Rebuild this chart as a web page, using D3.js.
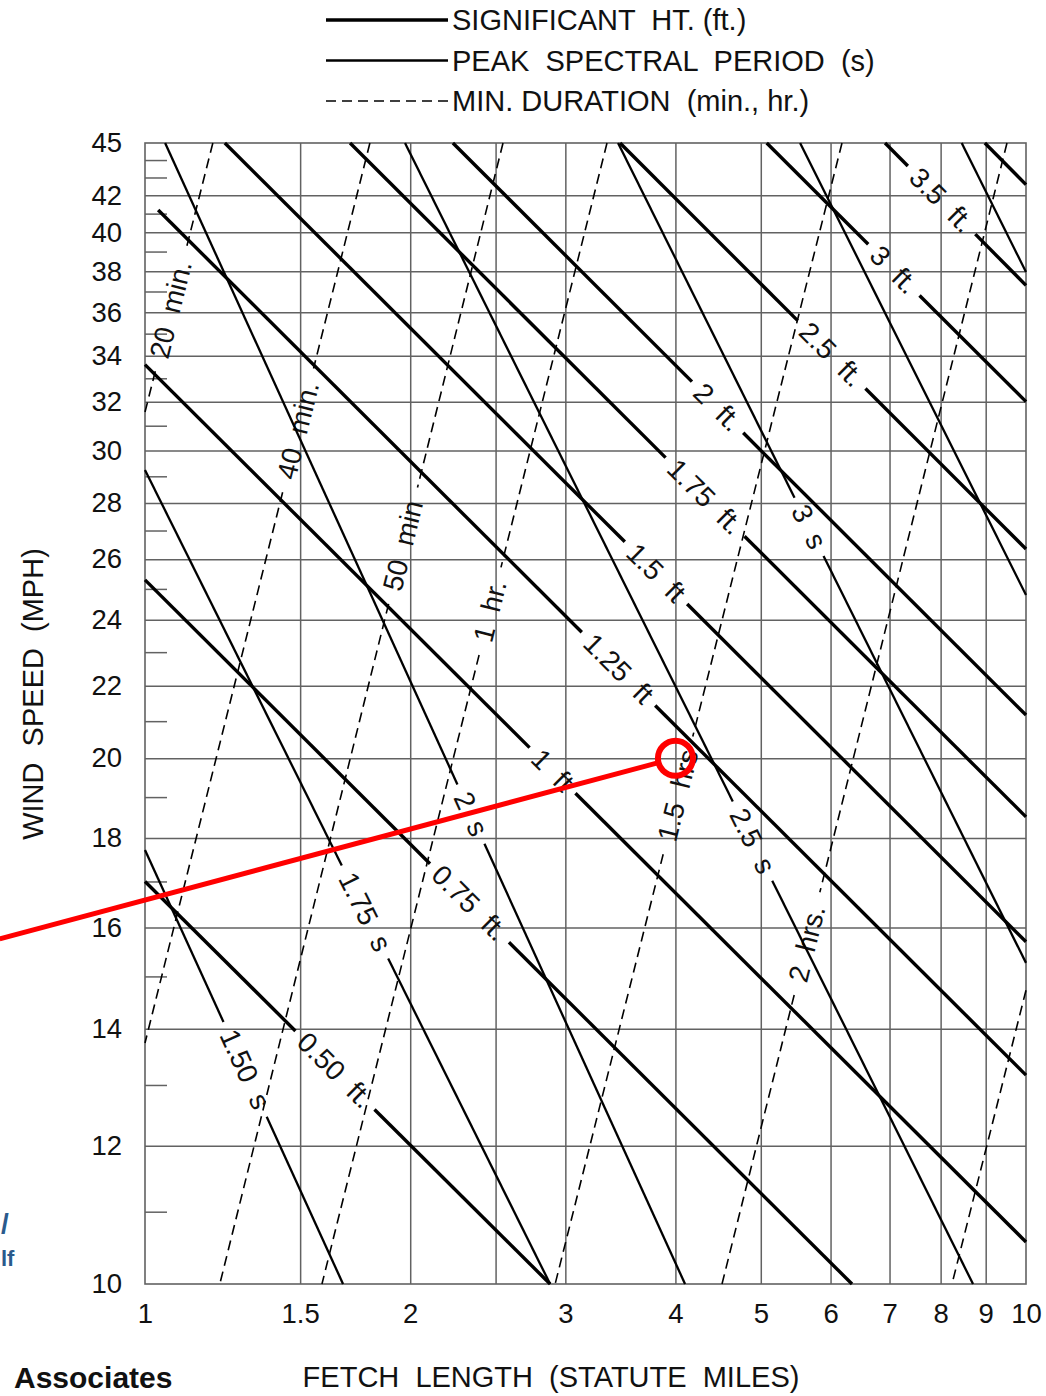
<!DOCTYPE html>
<html><head><meta charset="utf-8">
<script src="https://cdn.jsdelivr.net/npm/d3@7"></script>
<style>
html,body{margin:0;padding:0;background:#fff;}
svg text{font-family:"Liberation Sans",Arial,Helvetica,sans-serif;white-space:pre;}
</style></head>
<body><svg id="c" width="1046" height="1396"></svg>
<script>
// ---------------- data ----------------
const windTicks  = [10,12,14,16,18,20,22,24,26,28,30,32,34,36,38,40,42,45];
const windMinor  = [11,13,15,17,19,21,23,25,27,29,31,33,35,37,39,41,43,44];
const fetchGrid  = [1.5,2,2.5,3,4,5,6,7,8,9];
const fetchTicks = [1,1.5,2,3,4,5,6,7,8,9,10];

const legendLabels = ["SIGNIFICANT  HT. (ft.)","PEAK  SPECTRAL  PERIOD  (s)","MIN. DURATION  (min., hr.)"];

// significant wave height lines: [fetch, wind] at each end, label, fetch of label
const heightLabels = ["0.50  ft.","0.75  ft.","1  ft","1.25  ft","1.5  ft","1.75  ft.","2  ft.","2.5  ft.","3  ft.","3.5  ft.",""];
const heightStart  = [[1,17.0],[1,25.3],[1,33.6],[1.035,41.2],[1.232,45],[1.709,45],[2.236,45],[3.461,45],[5.078,45],[6.918,45],[8.98,45]];
const heightEnd    = [[2.883,10],[6.346,10],[10,10.57],[10,13.17],[10,15.7],[10,18.51],[10,21.17],[10,26.35],[10,32.0],[10,37.3],[10,42.6]];
const heightLabelFetch = [1.643,2.335,2.901,3.447,3.802,4.322,4.466,6.016,7.08,8.02,null];

// peak spectral period lines
const periodLabels = ["1.50  s","1.75  s","2  s","2.5  s","3  s","",""];
const periodStart  = [[1,17.72],[1,29.24],[1.054,45],[1.973,45],[3.443,45],[5.541,45],[8.453,45]];
const periodEnd    = [[1.678,10],[2.883,10],[4.102,10],[8.707,10],[10,15.27],[10,24.8],[10,37.96]];
const periodLabelFetch = [1.299,1.777,2.344,4.893,5.672,null,null];

// minimum duration lines
const durationLabels = ["20  min.","40  min.","50  min","1  hr.","1.5  hrs","2  hrs.",""];
const durationStart  = [[1.194,45],[1.8,45],[2.549,45],[3.345,45],[6.182,45],[9.515,45],[10,14.73]];
const durationEnd    = [[1,31.56],[1,13.74],[1.216,10],[1.588,10],[2.921,10],[4.518,10],[8.241,10]];
const durationLabelFetch = [1.070,1.492,1.963,2.464,4.027,5.642,null];

// red annotation (fetch, wind)
const markPoint = [4,20];
const markTail  = [0.684,15.76];

// ---------------- chart ----------------
const svg = d3.select("#c");
const X0=145, X1=1026, Y0=1284, Y1=143;
const xs = d3.scaleLog().domain([1,10]).range([X0,X1]);
const ys = d3.scaleLog().domain([10,45]).range([Y0,Y1]);
const GRID="#626262";

// vertical grid
svg.append("g").attr("transform",`translate(0,${Y0})`)
  .call(d3.axisBottom(xs).tickValues(fetchGrid).tickSize(-(Y0-Y1)).tickFormat(""))
  .call(g=>g.select(".domain").remove())
  .selectAll("line").attr("stroke",GRID).attr("stroke-width",1.5);
// horizontal grid
svg.append("g").attr("transform",`translate(${X0},0)`)
  .call(d3.axisLeft(ys).tickValues(windTicks.filter(v=>v>10&&v<45)).tickSize(-(X1-X0)).tickFormat(""))
  .call(g=>g.select(".domain").remove())
  .selectAll("line").attr("stroke",GRID).attr("stroke-width",1.5);
// minor ticks
svg.append("g").attr("transform",`translate(${X0},0)`)
  .call(d3.axisLeft(ys).tickValues(windMinor).tickSize(-22).tickFormat(""))
  .call(g=>g.select(".domain").remove())
  .selectAll("line").attr("stroke",GRID).attr("stroke-width",1.5);
// frame
svg.append("rect").attr("x",X0).attr("y",Y1).attr("width",X1-X0).attr("height",Y0-Y1)
  .attr("fill","none").attr("stroke",GRID).attr("stroke-width",1.6);

// tick labels
const yAx = svg.append("g").attr("transform",`translate(${X0},0)`)
  .call(d3.axisLeft(ys).tickValues(windTicks).tickSize(0).tickPadding(23).tickFormat(d=>d));
yAx.select(".domain").remove();
yAx.selectAll("text").attr("font-size",27.5).attr("fill","#111").attr("font-family",null);
const xAx = svg.append("g").attr("transform",`translate(0,${Y0})`)
  .call(d3.axisBottom(xs).tickValues(fetchTicks).tickSize(0).tickFormat(d=>d));
xAx.select(".domain").remove();
xAx.selectAll("text").attr("font-size",27.5).attr("fill","#111").attr("font-family",null)
  .attr("y",29).attr("dy","0.35em");

// axis titles
svg.append("text").attr("transform","translate(43,694) rotate(-90)")
  .attr("text-anchor","middle").attr("font-size",29).attr("fill","#111")
  .text("WIND  SPEED  (MPH)");
svg.append("text").attr("x",551).attr("y",1387)
  .attr("text-anchor","middle").attr("font-size",29).attr("fill","#111")
  .text("FETCH  LENGTH  (STATUTE  MILES)");

// line families
function drawFamily(starts, ends, labels, lfetch, sw, dash, pad){
  const g = svg.append("g");
  starts.forEach((s,i)=>{
    const p0=[xs(s[0]),ys(s[1])], p1=[xs(ends[i][0]),ys(ends[i][1])];
    const dx=p1[0]-p0[0], dy=p1[1]-p0[1], L=Math.hypot(dx,dy), ux=dx/L, uy=dy/L;
    let segs=[[p0,p1]];
    if(labels[i] && lfetch[i]!=null){
      const t=(xs(lfetch[i])-p0[0])/dx;
      const c=[p0[0]+t*dx, p0[1]+t*dy];
      let ang = dx>=0 ? Math.atan2(dy,dx) : Math.atan2(-dy,-dx);
      ang = ang*180/Math.PI;
      const txt = g.append("text").attr("x",c[0]).attr("y",c[1])
        .attr("transform",`rotate(${ang},${c[0]},${c[1]})`)
        .attr("text-anchor","middle").attr("dominant-baseline","central")
        .attr("font-size",28).attr("fill","#111").text(labels[i]);
      const gap = txt.node().getComputedTextLength() + 2*pad;
      segs=[[p0,[c[0]-ux*gap/2,c[1]-uy*gap/2]],[[c[0]+ux*gap/2,c[1]+uy*gap/2],p1]];
    }
    segs.forEach(sg=>{
      g.append("line").attr("x1",sg[0][0]).attr("y1",sg[0][1]).attr("x2",sg[1][0]).attr("y2",sg[1][1])
        .attr("stroke","#000").attr("stroke-width",sw).attr("stroke-dasharray",dash).attr("stroke-linecap","butt");
    });
  });
}
drawFamily(durationStart,durationEnd,durationLabels,durationLabelFetch,1.6,"10,6",14);
drawFamily(periodStart,periodEnd,periodLabels,periodLabelFetch,2.3,null,10);
drawFamily(heightStart,heightEnd,heightLabels,heightLabelFetch,3.4,null,9);

// legend
const lg = svg.append("g");
const legendStyles=[{sw:3.4,dash:null},{sw:2.6,dash:null},{sw:1.6,dash:"10,6"}];
legendLabels.forEach((t,i)=>{
  const y = 20 + i*40.5;
  lg.append("line").attr("x1",326).attr("x2",448).attr("y1",y).attr("y2",y)
    .attr("stroke","#000").attr("stroke-width",legendStyles[i].sw).attr("stroke-dasharray",legendStyles[i].dash);
  lg.append("text").attr("x",452).attr("y",y).attr("dominant-baseline","central")
    .attr("font-size",29).attr("fill","#111").text(t);
});

// red annotation
const R=17.5;
const mp=[xs(markPoint[0]),ys(markPoint[1])], mt=[xs(markTail[0]),ys(markTail[1])];
const mL=Math.hypot(mp[0]-mt[0],mp[1]-mt[1]);
svg.append("line").attr("x1",mt[0]).attr("y1",mt[1])
  .attr("x2",mp[0]-(mp[0]-mt[0])/mL*R).attr("y2",mp[1]-(mp[1]-mt[1])/mL*R)
  .attr("stroke","#ff0000").attr("stroke-width",5);
svg.append("circle").attr("cx",mp[0]).attr("cy",mp[1]).attr("r",R)
  .attr("fill","none").attr("stroke","#ff0000").attr("stroke-width",6);

// slide fragments at left edge
svg.append("text").attr("x",1).attr("y",1233)
  .attr("font-family","'Open Sans', Lato, sans-serif").attr("font-weight","bold")
  .attr("font-size",28).attr("fill","#2a5a8c").text("/");
svg.append("text").attr("x",1).attr("y",1266)
  .attr("font-family","'Open Sans', Lato, sans-serif").attr("font-weight","bold")
  .attr("font-size",22).attr("fill","#2a5a8c").text("lf");
svg.append("text").attr("x",14).attr("y",1388)
  .attr("font-family","Lato, 'Open Sans', sans-serif").attr("font-weight","bold")
  .attr("font-size",30).attr("fill","#111").text("Associates");
</script>
</body></html>
